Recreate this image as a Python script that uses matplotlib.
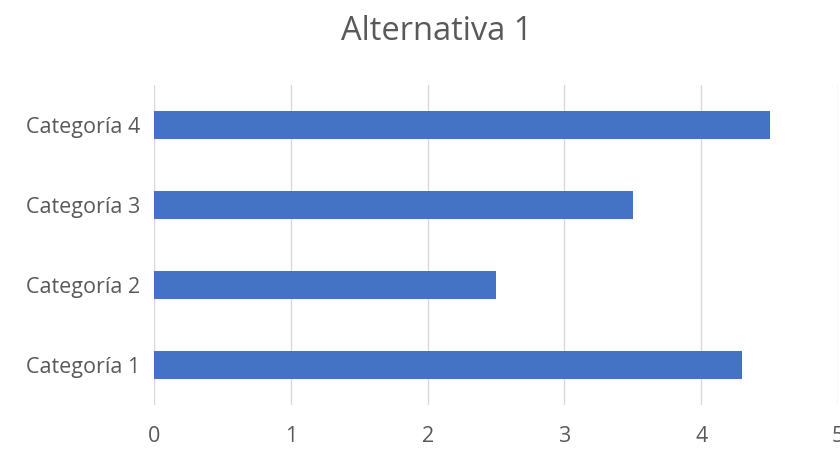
import matplotlib
matplotlib.use('Agg')
import matplotlib.pyplot as plt

# Chart data
categories = ['Categoría 1', 'Categoría 2', 'Categoría 3', 'Categoría 4']
values = [4.3, 2.5, 3.5, 4.5]
x_ticks = [0, 1, 2, 3, 4, 5]

plt.rcParams['font.family'] = ['Open Sans', 'DejaVu Sans']

fig = plt.figure(figsize=(8.4, 4.49), dpi=100)
ax = fig.add_axes([0.1833, 0.098, 0.8143, 0.7127])

ax.barh(categories, values, height=0.35, color='#4472C4', zorder=3)

ax.set_xlim(0, 5)
ax.set_ylim(-0.5, 3.5)
ax.set_xticks(x_ticks)
ax.grid(axis='x', color='#D9D9D9', linewidth=1, zorder=0)
ax.grid(axis='y', visible=False)
for side in ['top', 'right', 'bottom', 'left']:
    ax.spines[side].set_visible(False)
ax.tick_params(axis='both', length=0, labelsize=15.5, labelcolor='#595959', pad=10)
ax.tick_params(axis='x', pad=15)

fig.text(0.52, 0.93, 'Alternativa 1', ha='center', va='center', fontsize=23.5, color='#595959')

fig.savefig('out.png', dpi=100)
